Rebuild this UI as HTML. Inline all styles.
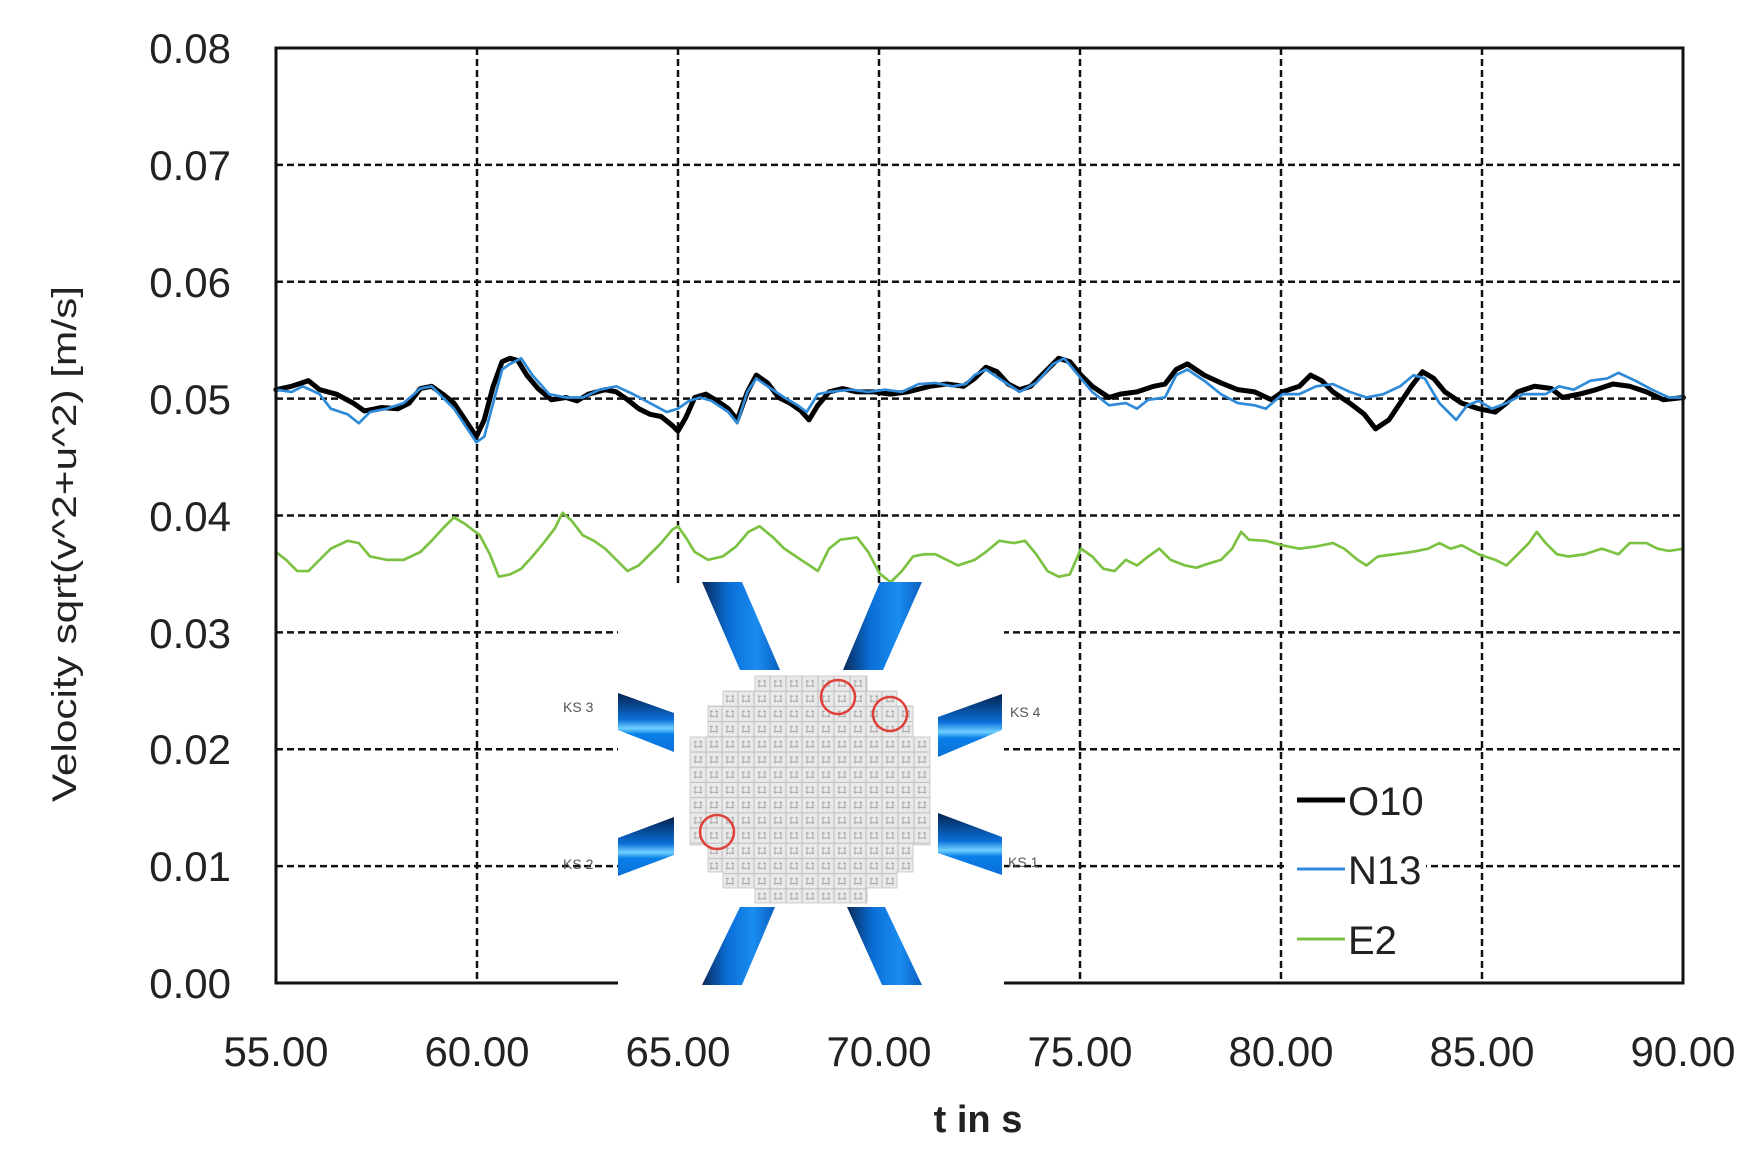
<!DOCTYPE html>
<html><head><meta charset="utf-8"><style>
html,body{margin:0;padding:0;background:#fff;}
svg{display:block;font-family:"Liberation Sans",sans-serif;}
</style></head><body>
<svg width="1757" height="1165" viewBox="0 0 1757 1165" xmlns="http://www.w3.org/2000/svg">
<rect width="1757" height="1165" fill="#fff"/>
<g stroke="#111" stroke-width="2.5" stroke-dasharray="7 4" fill="none">
<line x1="276" y1="164.9" x2="1683" y2="164.9"/>
<line x1="276" y1="281.8" x2="1683" y2="281.8"/>
<line x1="276" y1="398.6" x2="1683" y2="398.6"/>
<line x1="276" y1="515.5" x2="1683" y2="515.5"/>
<line x1="276" y1="632.4" x2="1683" y2="632.4"/>
<line x1="276" y1="749.3" x2="1683" y2="749.3"/>
<line x1="276" y1="866.1" x2="1683" y2="866.1"/>
<line x1="477" y1="48" x2="477" y2="983"/>
<line x1="678" y1="48" x2="678" y2="983"/>
<line x1="879" y1="48" x2="879" y2="983"/>
<line x1="1080" y1="48" x2="1080" y2="983"/>
<line x1="1281" y1="48" x2="1281" y2="983"/>
<line x1="1482" y1="48" x2="1482" y2="983"/>
</g>
<g transform="translate(0.5,0) scale(1.1197)" fill="none" stroke-linejoin="round" stroke-linecap="round">
<polyline stroke="#000" stroke-width="4.5" points="246,348 260,345 275,340 285,348 300,352 315,360 325,367 340,364 355,365 365,360 375,347 385,345 395,352 405,360 415,375 425,390 432,375 440,345 448,323 455,320 462,322 470,335 480,347 492,357 505,355 515,358 525,352 540,348 550,350 560,357 570,365 580,370 590,372 600,380 605,385 612,373 620,355 630,352 640,358 650,365 658,375 667,350 675,335 685,342 695,355 705,360 715,367 722,375 730,362 740,350 752,347 765,350 780,350 795,352 810,350 830,345 845,343 860,345 870,338 880,328 890,332 900,343 910,348 920,345 935,330 945,320 955,323 965,335 975,345 990,355 1000,352 1015,350 1030,345 1040,343 1050,330 1060,325 1075,335 1090,342 1105,348 1120,350 1135,357 1145,350 1160,345 1170,335 1180,340 1190,350 1205,360 1218,370 1228,383 1240,375 1250,360 1260,345 1270,332 1280,338 1290,350 1305,360 1320,365 1335,368 1345,360 1355,350 1370,345 1385,347 1395,355 1410,352 1425,348 1440,343 1455,345 1470,350 1485,357 1503,355"/>
<polyline stroke="#2f8ad8" stroke-width="2.4" points="246,348 260,350 270,345 285,352 295,365 310,370 320,378 330,368 345,365 360,360 375,347 385,345 395,355 405,365 415,380 425,395 432,390 440,360 448,330 455,325 465,320 475,335 490,352 505,355 520,355 535,348 550,345 565,352 580,360 595,368 605,365 615,358 625,355 635,358 650,368 658,378 667,350 675,338 685,345 700,355 712,362 720,368 730,352 740,350 760,348 775,350 790,348 805,350 820,343 835,342 850,345 862,343 870,335 880,330 895,340 910,350 925,342 940,325 950,320 960,332 975,350 990,362 1005,360 1015,365 1025,357 1040,355 1050,335 1060,330 1075,340 1090,352 1105,360 1120,362 1130,365 1145,352 1160,352 1175,345 1190,343 1205,350 1220,355 1235,352 1250,345 1262,335 1272,338 1285,360 1300,375 1310,362 1320,358 1332,365 1345,360 1360,352 1380,352 1392,345 1405,348 1420,340 1435,338 1445,333 1460,340 1475,348 1490,355 1503,355"/>
<polyline stroke="#7cc242" stroke-width="2.4" points="246,493 255,500 265,510 275,510 285,500 295,490 310,483 320,485 330,497 345,500 360,500 375,493 385,483 395,472 405,462 415,468 428,478 437,495 445,515 455,513 465,508 475,497 485,485 495,472 502,458 510,465 520,478 530,483 540,490 550,500 560,510 570,505 580,495 590,485 600,473 605,470 612,480 620,493 632,500 645,497 657,488 668,475 678,470 690,480 700,490 715,500 730,510 740,490 750,482 765,480 775,493 785,512 795,520 805,510 815,497 825,495 835,495 845,500 855,505 870,500 880,493 892,483 905,485 915,483 925,495 935,510 945,515 955,513 965,490 975,497 985,508 995,510 1005,500 1015,505 1025,497 1035,490 1045,500 1058,505 1068,507 1080,503 1090,500 1100,490 1108,475 1115,482 1130,483 1145,487 1160,490 1175,488 1190,485 1200,490 1212,500 1220,505 1230,497 1245,495 1260,493 1275,490 1285,485 1295,490 1305,487 1320,495 1335,500 1345,505 1355,495 1365,485 1372,475 1380,485 1390,495 1400,497 1415,495 1430,490 1445,495 1455,485 1470,485 1480,490 1490,492 1503,490"/>
</g>
<rect x="276" y="48" width="1407" height="935" fill="none" stroke="#111" stroke-width="3"/>
<defs>
<linearGradient id="bl" x1="0" y1="0" x2="1" y2="0">
<stop offset="0" stop-color="#0a2a5a"/><stop offset="0.35" stop-color="#0a6fd8"/><stop offset="0.7" stop-color="#1a8cf0"/><stop offset="1" stop-color="#0a5fc0"/>
</linearGradient>
<linearGradient id="bv" x1="0" y1="0" x2="0" y2="1">
<stop offset="0" stop-color="#06224d"/><stop offset="0.45" stop-color="#0a6fd8"/><stop offset="0.6" stop-color="#6fd0ff"/><stop offset="0.7" stop-color="#0a7fe8"/><stop offset="1" stop-color="#0a6fd8"/>
</linearGradient>
<pattern id="cells" x="690" y="676" width="16" height="15.2" patternUnits="userSpaceOnUse">
<rect width="16" height="15.2" fill="#e9e9e9" stroke="#bdbdbd" stroke-width="1"/>
<path d="M4 5h3M9 5h3M4 10h8M5 4v7M11 4v7" stroke="#9a9a9a" stroke-width="0.8"/>
</pattern>
</defs>
<rect x="618" y="583" width="386" height="407" fill="#fff"/>
<polygon points="702,582 742,582 780,670 740,670" fill="url(#bl)"/>
<polygon points="880,582 922,582 883,670 843,670" fill="url(#bl)"/>
<polygon points="740,907 775,907 742,985 702,985" fill="url(#bl)"/>
<polygon points="847,907 885,907 922,985 882,985" fill="url(#bl)"/>
<polygon points="618,693 674,713 674,752 618,730" fill="url(#bv)"/>
<polygon points="618,838 674,817 674,855 618,876" fill="url(#bv)"/>
<polygon points="938,717 1002,694 1002,730 938,757" fill="url(#bv)"/>
<polygon points="938,813 1002,837 1002,875 938,853" fill="url(#bv)"/>
<polygon points="755,676 867,676 867,691 897,691 897,706 913,706 913,737 930,737 930,845 913,845 913,872 897,872 897,888 867,888 867,903 755,903 755,888 723,888 723,872 708,872 708,845 690,845 690,737 708,737 708,706 723,706 723,691 755,691" fill="url(#cells)" stroke="#ccc" stroke-width="1"/>
<g fill="none" stroke="#e0403a" stroke-width="2.5">
<circle cx="838" cy="697" r="17"/>
<circle cx="890" cy="714" r="17"/>
<circle cx="717" cy="832" r="17"/>
</g>
<g font-size="14" fill="#555">
<text x="563" y="712">KS 3</text>
<text x="563" y="869">KS 2</text>
<text x="1010" y="717">KS 4</text>
<text x="1008" y="867">KS 1</text>
</g>
<rect x="1286" y="765" width="140" height="210" fill="#fff"/>
<line x1="1297" y1="800" x2="1345" y2="800" stroke="#000" stroke-width="5"/>
<line x1="1297" y1="869" x2="1345" y2="869" stroke="#2f8ad8" stroke-width="3"/>
<line x1="1297" y1="939" x2="1345" y2="939" stroke="#7cc242" stroke-width="3"/>
<g font-size="40" fill="#222">
<text x="1348" y="815">O10</text>
<text x="1348" y="884">N13</text>
<text x="1348" y="954">E2</text>
</g>
<g font-size="42" fill="#222" text-anchor="end">
<text x="231" y="63">0.08</text>
<text x="231" y="180">0.07</text>
<text x="231" y="297">0.06</text>
<text x="231" y="414">0.05</text>
<text x="231" y="531">0.04</text>
<text x="231" y="648">0.03</text>
<text x="231" y="764">0.02</text>
<text x="231" y="881">0.01</text>
<text x="231" y="998">0.00</text>
</g>
<g font-size="42" fill="#222" text-anchor="middle">
<text x="276" y="1066">55.00</text>
<text x="477" y="1066">60.00</text>
<text x="678" y="1066">65.00</text>
<text x="879" y="1066">70.00</text>
<text x="1080" y="1066">75.00</text>
<text x="1281" y="1066">80.00</text>
<text x="1482" y="1066">85.00</text>
<text x="1683" y="1066">90.00</text>
</g>
<text x="978" y="1132" font-size="38" font-weight="bold" fill="#222" text-anchor="middle">t in s</text>
<text transform="translate(76,544) rotate(-90)" font-size="34" fill="#222" text-anchor="middle" textLength="516" lengthAdjust="spacingAndGlyphs">Velocity sqrt(v^2+u^2) [m/s]</text>
</svg>
</body></html>
